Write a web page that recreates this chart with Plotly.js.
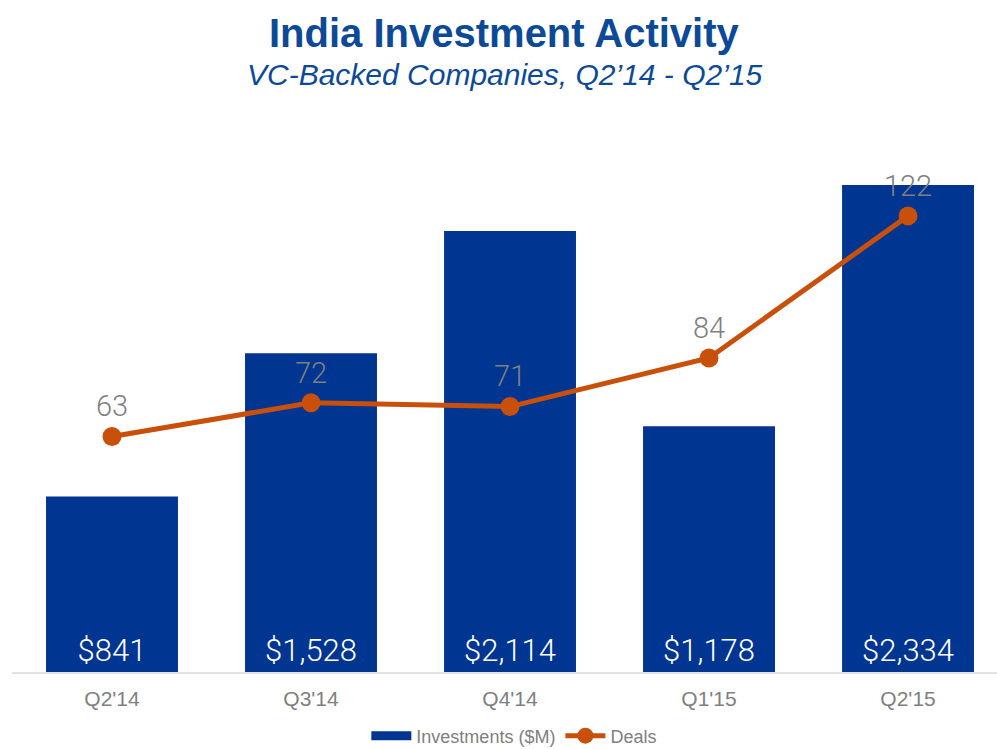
<!DOCTYPE html>
<html>
<head>
<meta charset="utf-8">
<script src="https://cdn.plot.ly/plotly-3.0.1.min.js"></script>
<style>html,body{margin:0;padding:0;background:#fff;}#chart{width:997px;height:749px;}</style>
</head>
<body>
<div id="chart"></div>
<script>
const quarters = ["Q2'14", "Q3'14", "Q4'14", "Q1'15", "Q2'15"];
const investments = [841, 1528, 2114, 1178, 2334];
const deals = [63, 72, 71, 84, 122];

const investLabels = investments.map(v => '$' + v.toLocaleString('en-US'));

const barTrace = {
  type: 'bar',
  name: 'Investments ($M)',
  x: quarters,
  y: investments,
  marker: {color: '#003591'},
  text: investLabels,
  textposition: 'inside',
  insidetextanchor: 'start',
  textangle: 0,
  textfont: {color: '#ffffff', size: 31, family: 'Roboto', weight: 300},
  hoverinfo: 'skip',
  showlegend: false
};

// legend-only entry giving the wide bar swatch of the reference
const barLegend = {
  type: 'scatter',
  mode: 'lines',
  name: 'Investments ($M)',
  x: quarters,
  y: quarters.map(() => null),
  line: {color: '#003591', width: 9},
  hoverinfo: 'skip',
  showlegend: true
};

const lineTrace = {
  type: 'scatter',
  mode: 'lines+markers+text',
  name: 'Deals',
  x: quarters,
  y: deals,
  yaxis: 'y2',
  line: {color: '#C8500A', width: 5},
  marker: {color: '#C8500A', size: 19},
  text: deals.map(String),
  textposition: 'top center',
  textfont: {color: '#7f7f7f', size: 29, family: 'Roboto', weight: 300},
  hoverinfo: 'skip',
  cliponaxis: false
};

const layout = {
  width: 997,
  height: 749,
  margin: {l: 12, r: 0, t: 100, b: 77, autoexpand: false},
  paper_bgcolor: '#ffffff',
  plot_bgcolor: '#ffffff',
  showlegend: true,
  bargap: 0.337,
  xaxis: {
    type: 'category',
    range: [-0.5025, 4.447],
    showline: true,
    linecolor: '#e3e3e3',
    linewidth: 2,
    ticks: '',
    ticklabelstandoff: 7,
    showgrid: false,
    tickfont: {family: 'Liberation Sans', size: 21, color: '#808080'},
    fixedrange: true
  },
  yaxis: {
    range: [0, 2742],
    visible: false,
    showgrid: false,
    zeroline: false
  },
  yaxis2: {
    range: [0, 153],
    overlaying: 'y',
    side: 'right',
    visible: false,
    showgrid: false,
    zeroline: false
  },
  legend: {
    orientation: 'h',
    x: 0.51,
    xanchor: 'center',
    y: -64 / 572,
    yanchor: 'middle',
    font: {family: 'Liberation Sans', size: 18, color: '#808080'},
    itemwidth: 40,
    traceorder: 'normal'
  },
  annotations: [
    {
      text: '<b>India Investment Activity</b>',
      xref: 'paper', yref: 'paper',
      x: 0.5, y: (672 - 33) / 572,
      xanchor: 'center', yanchor: 'middle',
      showarrow: false,
      font: {family: 'Liberation Sans', size: 40, color: '#0C4A97'}
    },
    {
      text: '<i>VC-Backed Companies, Q2\u201914 - Q2\u201915</i>',
      xref: 'paper', yref: 'paper',
      x: 0.5, y: (672 - 75) / 572,
      xanchor: 'center', yanchor: 'middle',
      showarrow: false,
      font: {family: 'Liberation Sans', size: 30, color: '#0C4A97'}
    }
  ]
};

Plotly.newPlot('chart', [barTrace, barLegend, lineTrace], layout, {displayModeBar: false, staticPlot: true});
</script>
</body>
</html>
